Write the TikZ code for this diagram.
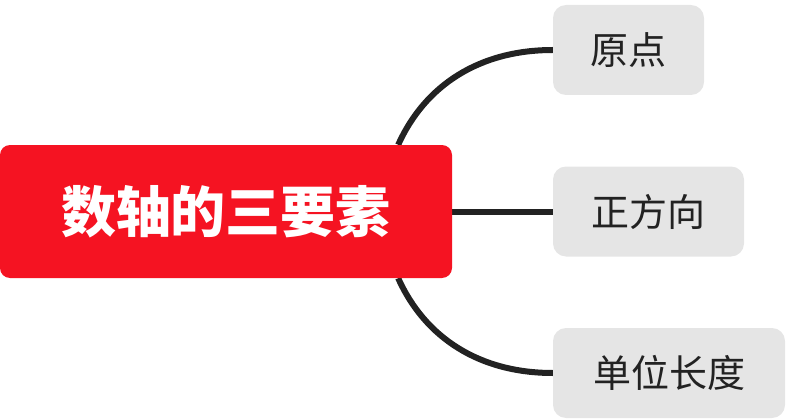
\documentclass[tikz,border=0pt]{standalone}
\usepackage{fontspec}
\newfontfamily\cjk{Noto Sans CJK SC}
\usetikzlibrary{positioning,calc,backgrounds}
\definecolor{topicred}{RGB}{245,19,34}
\definecolor{subgray}{RGB}{229,229,229}
\definecolor{linedark}{RGB}{34,34,34}

\begin{document}
\begin{tikzpicture}[x=1pt,y=-1pt,
  topic/.style={fill=topicred,rounded corners=10pt,text=white,
    font=\cjk\bfseries\fontsize{55}{60}\selectfont,
    minimum height=133pt,inner sep=0pt},
  sub/.style={fill=subgray,rounded corners=13pt,text=linedark,
    font=\cjk\fontsize{38}{42}\selectfont,
    minimum height=90pt,inner sep=0pt},
  branch/.style={draw=linedark,line width=6pt}]
  \useasboundingbox (0,0) rectangle (788,420);

  % central topic and its three subtopics
  \node[topic,minimum width=452pt] (main) at (226,211.5) {数轴的三要素};
  \node[sub,minimum width=151pt] (yuandian) at (628.5,50) {原点};
  \node[sub,minimum width=191pt] (zhengfx) at (648.5,211.5) {正方向};
  \node[sub,minimum width=232pt] (danwei) at (669,373) {单位长度};

  \coordinate (up) at ($(main.north east)+(-54,0)$);
  \coordinate (down) at ($(main.south east)+(-54,0)$);

  % branches
  \begin{pgfonlayer}{background}
    \draw[branch] (up) .. controls +(27,-60) and +(-73,0) .. (yuandian.west);
    \draw[branch] (main.east) -- (zhengfx.west);
    \draw[branch] (down) .. controls +(27,60) and +(-73,0) .. (danwei.west);
  \end{pgfonlayer}
\end{tikzpicture}
\end{document}
